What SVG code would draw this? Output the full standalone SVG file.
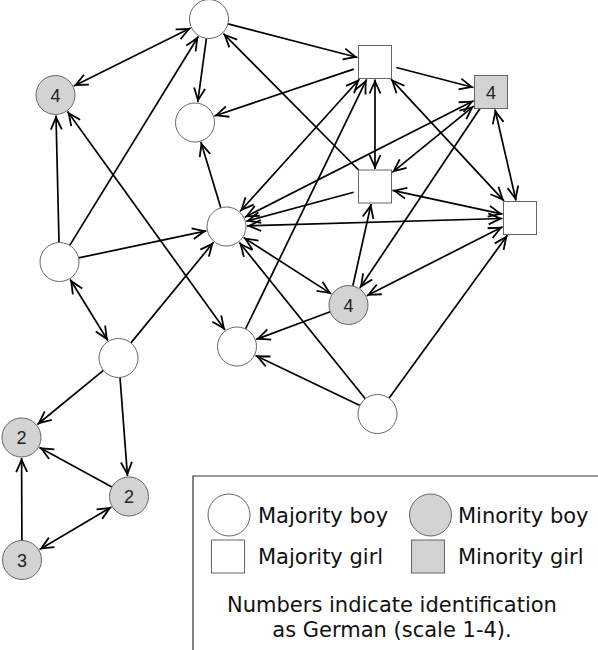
<svg xmlns="http://www.w3.org/2000/svg" width="598" height="650" viewBox="0 0 598 650">
<style>
.e{stroke:#000;stroke-width:1.7;fill:none}
.a{marker-end:url(#ah)}
.b{marker-start:url(#ah);marker-end:url(#ah)}
.maj{fill:#fff;stroke:#666;stroke-width:1}
.min{fill:#d3d3d3;stroke:#666;stroke-width:1}
.num{font-family:"Liberation Sans",Arial,sans-serif;font-size:18px;text-anchor:middle;fill:#222}
.lg{font-family:"DejaVu Sans",Verdana,sans-serif;font-size:21px;fill:#111}
</style>
<defs>
<marker id="ah" markerUnits="userSpaceOnUse" markerWidth="18" markerHeight="16" viewBox="-16 -8 18 16" refX="0" refY="0" orient="auto-start-reverse">
<path d="M-14,-5.5 L-2,0 L-14,5.5" fill="none" stroke="#000" stroke-width="1.8" stroke-linejoin="miter"/>
</marker>
</defs>
<rect width="598" height="650" fill="#fff"/>
<g id="connectors">
<line class="e b" x1="190.6" y1="28.1" x2="73.9" y2="85.9"/>
<line class="e a" x1="206.4" y1="38.3" x2="197.7" y2="102.2"/>
<line class="e a" x1="69.7" y1="245.4" x2="198.3" y2="36.5"/>
<line class="e a" x1="59.0" y1="242.5" x2="56.0" y2="115.5"/>
<line class="e b" x1="67.5" y1="111.6" x2="225.0" y2="329.9"/>
<line class="e a" x1="227.9" y1="23.9" x2="357.5" y2="57.5"/>
<line class="e a" x1="358.6" y1="170.0" x2="223.4" y2="33.6"/>
<line class="e a" x1="353.8" y1="69.1" x2="214.4" y2="116.0"/>
<line class="e a" x1="220.8" y1="207.8" x2="200.9" y2="142.1"/>
<line class="e b" x1="240.2" y1="211.3" x2="359.4" y2="79.2"/>
<line class="e a" x1="245.5" y1="329.0" x2="366.6" y2="79.4"/>
<line class="e b" x1="391.0" y1="79.2" x2="504.0" y2="200.8"/>
<line class="e b" x1="375" y1="79.5" x2="375" y2="169"/>
<line class="e a" x1="396.3" y1="67.5" x2="473.5" y2="87.5"/>
<line class="e b" x1="495.0" y1="109.5" x2="516.0" y2="200.5"/>
<line class="e b" x1="473.7" y1="106.1" x2="392.3" y2="172.4"/>
<line class="e b" x1="473.6" y1="100.8" x2="244.8" y2="217.2"/>
<line class="e a" x1="480.0" y1="108.5" x2="359.9" y2="288.0"/>
<line class="e a" x1="353.7" y1="192.2" x2="246.3" y2="221.2"/>
<line class="e b" x1="392.5" y1="190.3" x2="502.5" y2="214.2"/>
<line class="e b" x1="502.5" y1="218.5" x2="247.0" y2="225.9"/>
<line class="e b" x1="331.3" y1="293.9" x2="243.7" y2="237.6"/>
<line class="e b" x1="366.8" y1="295.7" x2="502.6" y2="226.8"/>
<line class="e a" x1="352.8" y1="286.0" x2="371.1" y2="204.0"/>
<line class="e a" x1="330.2" y1="311.8" x2="256.2" y2="339.4"/>
<line class="e a" x1="359.9" y1="405.6" x2="255.5" y2="355.4"/>
<line class="e a" x1="365.3" y1="398.8" x2="239.4" y2="242.5"/>
<line class="e a" x1="389.0" y1="398.2" x2="507.4" y2="235.3"/>
<line class="e a" x1="78.6" y1="257.9" x2="206.4" y2="230.8"/>
<line class="e b" x1="70.2" y1="279.5" x2="107.8" y2="340.5"/>
<line class="e a" x1="130.9" y1="342.9" x2="213.5" y2="242.3"/>
<line class="e a" x1="103.4" y1="370.4" x2="37.4" y2="424.5"/>
<line class="e a" x1="120.0" y1="377.4" x2="127.5" y2="476.1"/>
<line class="e a" x1="111.9" y1="487.1" x2="39.5" y2="447.4"/>
<line class="e a" x1="21.9" y1="540.5" x2="21.6" y2="458"/>
<line class="e b" x1="39.6" y1="549.5" x2="111.4" y2="507.0"/>
</g>
<g id="node-a"><circle class="maj" cx="209" cy="19" r="19.5"/></g>
<g id="node-b"><circle class="min" cx="55.5" cy="95" r="19.5"/><text class="num" x="55.5" y="101.5">4</text></g>
<g id="node-c"><circle class="maj" cx="195" cy="122.5" r="19.5"/></g>
<g id="node-d"><circle class="maj" cx="226.5" cy="226.5" r="19.5"/></g>
<g id="node-e"><circle class="maj" cx="59.5" cy="262" r="19.5"/></g>
<g id="node-f"><circle class="maj" cx="118.5" cy="358" r="19.5"/></g>
<g id="node-g"><circle class="maj" cx="237" cy="346.5" r="19.5"/></g>
<g id="node-h"><circle class="min" cx="348.5" cy="305" r="19.5"/><text class="num" x="348.5" y="311.5">4</text></g>
<g id="node-i"><circle class="maj" cx="377.5" cy="414" r="19.5"/></g>
<g id="node-j"><rect class="maj" x="358.5" y="45.5" width="33" height="33"/></g>
<g id="node-k"><rect class="min" x="474.5" y="75.5" width="33" height="33"/><text class="num" x="491" y="98.5">4</text></g>
<g id="node-l"><rect class="maj" x="358.5" y="170" width="33" height="33"/></g>
<g id="node-m"><rect class="maj" x="503.5" y="201.5" width="33" height="33"/></g>
<g id="node-n"><circle class="min" cx="21.5" cy="437.5" r="19.5"/><text class="num" x="21.5" y="444">2</text></g>
<g id="node-o"><circle class="min" cx="129" cy="496.5" r="19.5"/><text class="num" x="129" y="503">2</text></g>
<g id="node-p"><circle class="min" cx="22" cy="560" r="19.5"/><text class="num" x="22" y="566.5">3</text></g>
<g id="legend">
<path d="M193,650 V476 H598" fill="none" stroke="#333" stroke-width="1.2"/>
<circle class="maj" cx="229" cy="515" r="21"/>
<text class="lg" x="258" y="522.5">Majority boy</text>
<circle class="min" cx="430.5" cy="515" r="21"/>
<text class="lg" x="458" y="522.5">Minority boy</text>
<rect class="maj" x="211.5" y="540" width="33" height="33"/>
<text class="lg" x="258" y="563.5">Majority girl</text>
<rect class="min" x="411.5" y="540" width="33" height="33"/>
<text class="lg" x="458" y="563.5">Minority girl</text>
<text class="lg" x="392" y="612" text-anchor="middle">Numbers indicate identification</text>
<text class="lg" x="392" y="637" text-anchor="middle">as German (scale 1-4).</text>
</g>
</svg>
